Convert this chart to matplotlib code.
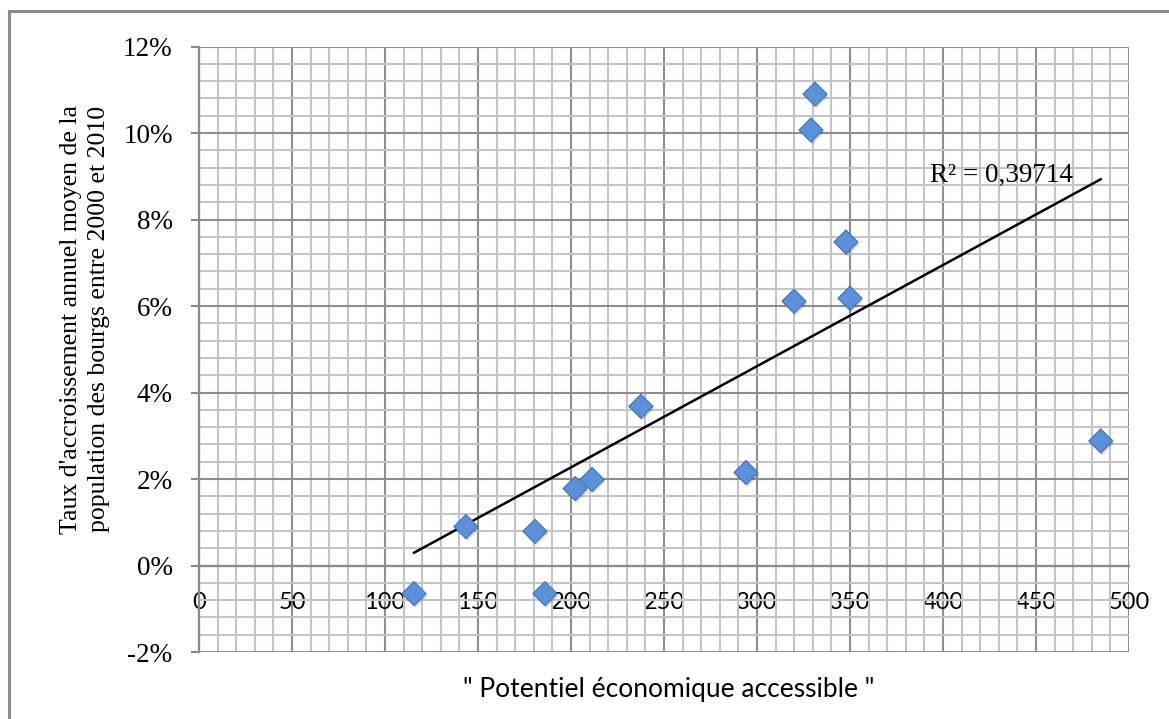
import numpy as np
import matplotlib
matplotlib.use("Agg")
import matplotlib.pyplot as plt
import matplotlib.patheffects as pe
from matplotlib.patches import Rectangle
from matplotlib.ticker import MultipleLocator, FuncFormatter

# potentiel economique accessible / taux d'accroissement annuel (%)
potentiel = [115.6, 143.5, 180.6, 186.0, 202.2, 211.3, 237.6, 294.1,
             319.9, 329.0, 331.2, 347.8, 350.0, 484.8]
taux = [-0.65, 0.90, 0.79, -0.65, 1.78, 1.99, 3.68, 2.15,
        6.11, 10.07, 10.90, 7.48, 6.18, 2.88]
r2_label = "R² = 0,39714"

x = np.array(potentiel)
y = np.array(taux)

fig = plt.figure(figsize=(11.69, 7.19), dpi=100)
ax = fig.add_axes([199/1169, 67/719, 930/1169, 0.8421])

ax.set_xlim(0, 500)
ax.set_ylim(-2, 12)
ax.xaxis.set_major_locator(MultipleLocator(50))
ax.xaxis.set_minor_locator(MultipleLocator(10))
ax.yaxis.set_major_locator(MultipleLocator(2))
ax.yaxis.set_minor_locator(MultipleLocator(0.4))
ax.yaxis.set_major_formatter(FuncFormatter(lambda v, p: "%d%%" % round(v)))

ax.grid(True, which="minor", color="#c4c4c4", lw=1.5, zorder=0)
ax.grid(True, which="major", color="#8e8e8e", lw=1.5, zorder=0)
ax.set_axisbelow(True)

for s in ["top", "right"]:
    ax.spines[s].set_visible(False)
ax.spines["left"].set_color("#8a8a8a")
ax.spines["left"].set_linewidth(1.6)
ax.spines["bottom"].set_position(("data", 0))
ax.spines["bottom"].set_color("#8a8a8a")
ax.spines["bottom"].set_linewidth(1.6)

ax.tick_params(axis="y", which="major", length=6, width=1.5, color="#8a8a8a",
               pad=13, labelsize=19.5)
ax.tick_params(axis="y", which="minor", length=0)
ax.tick_params(axis="x", which="both", length=0, pad=19, labelsize=17)
for t in ax.get_yticklabels():
    t.set_fontfamily("Liberation Serif")
for t in ax.get_xticklabels():
    t.set_fontfamily("Lato")

# trend line
a, b = np.polyfit(x, y, 1)
xl = np.array([x.min(), x.max()])
ax.plot(xl, a * xl + b, color="black", lw=1.8, zorder=2)

ax.scatter(x, y, marker="D", s=150, facecolor="#5b90da", edgecolor="#3f72ba",
           linewidth=0.8, zorder=3,
           path_effects=[pe.SimplePatchShadow(offset=(1, -1.5), alpha=0.2),
                         pe.Normal()])

ax.text(xl[1] - 15, a * xl[1] + b + 0.1, r2_label, ha="right", va="center",
        fontsize=19.5, family="Liberation Serif")

fig.text(85/1169, 1 - 319/719,
         "Taux d'accroissement annuel moyen de la\npopulation des bourgs entre 2000 et 2010",
         rotation=90, ha="center", va="center", multialignment="center",
         fontsize=18.5, family="Liberation Serif", linespacing=1.3)
fig.text(669/1169, 1 - 690/719, '" Potentiel économique accessible "',
         ha="center", va="center", fontsize=19, family="Lato")

fig.patches.append(Rectangle((9/1169, -0.05), 1.1, 1 - 11/719 + 0.05,
                             transform=fig.transFigure, fill=False,
                             edgecolor="#8a8a8a", lw=2.2))

fig.savefig("out.png", dpi=100)
